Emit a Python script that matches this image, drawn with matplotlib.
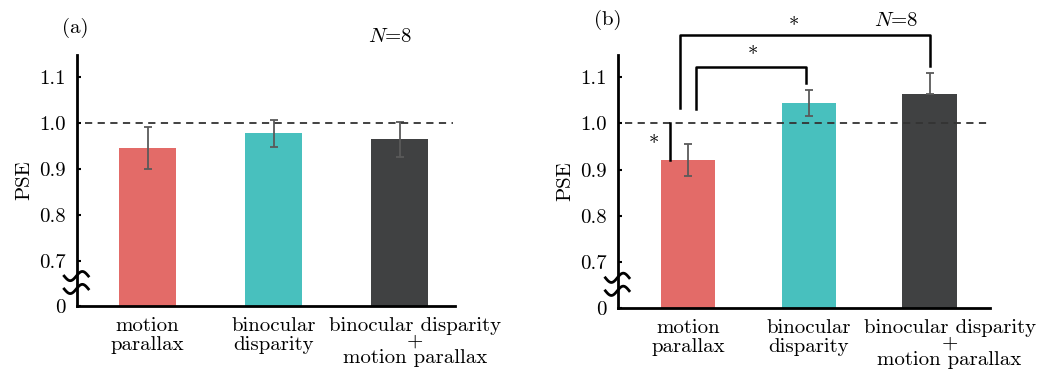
import matplotlib.pyplot as plt
from matplotlib.transforms import blended_transform_factory
import numpy as np

plt.rcParams['font.family'] = ['cmr10', 'DejaVu Serif']
plt.rcParams['mathtext.fontset'] = 'cm'
plt.rcParams['axes.formatter.use_mathtext'] = True

labels = ["motion\nparallax", "binocular\ndisparity", "binocular disparity\n+\nmotion parallax"]
colors = ["#E36B68", "#48C0BE", "#404142"]

pse_a = [0.945, 0.977, 0.964]
err_a = [0.046, 0.030, 0.038]
pse_b = [0.921, 1.043, 1.064]
err_b_lo = [0.035, 0.028, 0.0]
err_b_hi = [0.035, 0.028, 0.045]

ytick_vals = [0.7, 0.8, 0.9, 1.0, 1.1]
ytick_labels = ["0.7", "0.8", "0.9", "1.0", "1.1"]
base = 0.602   # where the broken axis puts "0"
ytop = 1.147

fig = plt.figure(figsize=(10.37, 3.74), dpi=100)
ax1 = fig.add_axes([0.0743, 0.1818, 0.3645, 0.671])
ax2 = fig.add_axes([0.596, 0.1765, 0.3587, 0.6765])


def draw_panel(ax, vals, errs, xlim, shift):
    x = np.arange(len(vals))
    ax.bar(x, np.array(vals) - base, bottom=base, width=0.45, color=colors, zorder=2)
    ax.errorbar(x, vals, yerr=errs, fmt='none', ecolor='#5a5a5a', elinewidth=1.3,
                capsize=3, capthick=1.3, zorder=3)
    ax.axhline(1.0, xmin=0.02, xmax=0.995, color='#333333', ls=(0, (4, 3)), lw=1.3, zorder=4)
    ax.set_xlim(*xlim)
    ax.set_ylim(base, ytop)
    ax.set_yticks([base] + ytick_vals)
    ax.set_yticklabels(["0"] + ytick_labels, fontsize=15)
    # the long third label sits a little right of its bar
    ax.set_xticks([0, 1, 2 + shift])
    ax.set_xticklabels(labels, fontsize=15, linespacing=1.05)
    ax.get_xticklabels()[2].set_linespacing(0.85)
    ax.tick_params(axis='y', direction='in', length=3, width=1.5, pad=8)
    ax.tick_params(axis='x', length=0, pad=8)
    for s in ['top', 'right']:
        ax.spines[s].set_visible(False)
    for s in ['left', 'bottom']:
        ax.spines[s].set_linewidth(2.0)
    ax.set_ylabel("PSE", fontsize=15, labelpad=4)
    # axis break marks
    tr = blended_transform_factory(ax.transAxes, ax.transData)
    t = np.linspace(-1, 1, 40)
    for yc in [0.667, 0.639]:
        ax.plot(0.032 * t - 0.002, yc + 0.010 * np.sin(np.pi * t), color='black', lw=2.0,
                transform=tr, clip_on=False, zorder=5)


draw_panel(ax1, pse_a, err_a, (-0.56, 2.44), 0.12)
draw_panel(ax2, pse_b, [err_b_lo, err_b_hi], (-0.58, 2.5), 0.165)

ax1.text(-0.004, 1.107, "(a)", transform=ax1.transAxes, fontsize=15, ha='center', va='center')
ax1.text(0.828, 1.072, "$N$=8", transform=ax1.transAxes, fontsize=15, ha='center', va='center')
ax2.text(-0.027, 1.138, "(b)", transform=ax2.transAxes, fontsize=15, ha='center', va='center')
ax2.text(0.747, 1.134, "$N$=8", transform=ax2.transAxes, fontsize=15, ha='center', va='center')

# significance brackets in panel (b)
kw = dict(color='black', lw=1.8, clip_on=False, zorder=5)
ax2.plot([0.064, 0.064, 0.98, 0.98], [1.030, 1.122, 1.122, 1.086], **kw)
ax2.plot([-0.066, -0.066, 2.0, 2.0], [1.032, 1.191, 1.191, 1.124], **kw)
ax2.plot([-0.15, -0.15], [1.0, pse_b[0]], **kw)
ax2.text(0.54, 1.145, "*", fontsize=15, ha='center', va='center')
ax2.text(0.88, 1.207, "*", fontsize=15, ha='center', va='center', clip_on=False)
ax2.text(-0.28, 0.952, "*", fontsize=15, ha='center', va='center')

fig.savefig("out.png", dpi=100)
